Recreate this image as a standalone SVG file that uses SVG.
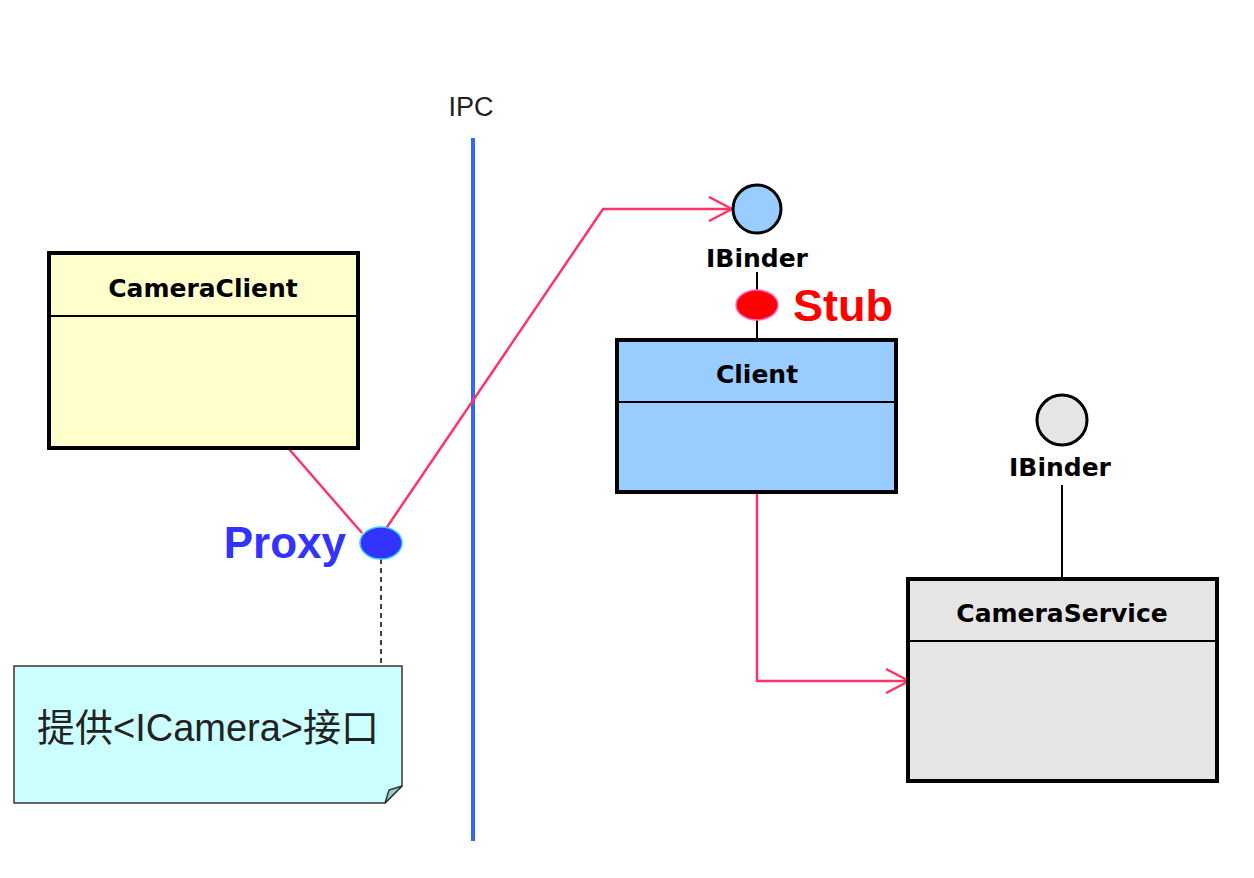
<svg xmlns="http://www.w3.org/2000/svg" width="1254" height="878" viewBox="0 0 1254 878">
<style>
.box{stroke:#000;stroke-width:4}
.div{stroke:#000;stroke-width:2}
.title{font-family:"DejaVu Sans","Liberation Sans",sans-serif;font-weight:bold;font-size:25px;text-anchor:middle;fill:#000}
.lbl{font-family:"DejaVu Sans","Liberation Sans",sans-serif;font-weight:bold;font-size:25px;text-anchor:middle;fill:#000}
.conn{fill:none;stroke:#FF3366;stroke-width:2.5}
.thin{stroke:#000;stroke-width:2}
</style>
<defs>
<marker id="open" viewBox="0 0 26 26" refX="24" refY="13" markerWidth="26" markerHeight="26" markerUnits="userSpaceOnUse" orient="auto">
<path d="M1,1 L24,13 L1,25" fill="none" stroke="#FF3366" stroke-width="2.5"/>
</marker>
</defs>
<rect width="1254" height="878" fill="#fff"/>
<g id="ipc">
<text x="471" y="116" font-family="Liberation Sans,Arial,sans-serif" font-size="27" text-anchor="middle" fill="#222">IPC</text>
<line x1="473" y1="138" x2="473" y2="841" stroke="#3366FF" stroke-width="4"/>
</g>
<g id="connectors">
<polyline class="conn" points="289,449 362,533"/>
<polyline class="conn" points="385,530 603,209 732,209" marker-end="url(#open)"/>
<polyline class="conn" points="757,493 757,681 909,681" marker-end="url(#open)"/>
<line x1="381" y1="559" x2="381" y2="666" stroke="#000" stroke-width="1.5" stroke-dasharray="5,4"/>
<line class="thin" x1="757" y1="272" x2="757" y2="291"/>
<line class="thin" x1="757" y1="320" x2="757" y2="339"/>
<line class="thin" x1="1062" y1="485" x2="1062" y2="578"/>
</g>
<g id="cameraclient">
<rect class="box" x="49" y="253" width="309" height="195" fill="#FFFFCC"/>
<line class="div" x1="49" y1="316" x2="358" y2="316"/>
<text class="title" x="203" y="297">CameraClient</text>
</g>
<g id="proxy">
<ellipse cx="381" cy="543" rx="21" ry="16" fill="#3333FF" stroke="#33CCFF" stroke-width="1.5"/>
<text x="346" y="558" font-family="Liberation Sans,Arial,sans-serif" font-weight="bold" font-size="44" text-anchor="end" fill="#3333FF">Proxy</text>
</g>
<g id="note">
<path d="M14,666 L402,666 L402,786 L385,803 L14,803 Z" fill="#CCFFFF" stroke="#333" stroke-width="1.5"/>
<path d="M385,803 L389,790 L402,786 Z" fill="#99CCCC" stroke="#333" stroke-width="1.5"/>
<text x="208" y="741" font-family="Liberation Sans,'Noto Sans CJK SC',sans-serif" font-size="38" text-anchor="middle" fill="#222">提供&lt;ICamera&gt;接口</text>
</g>
<g id="ibinder1">
<circle cx="757" cy="209" r="24" fill="#99CCFF" stroke="#000" stroke-width="3"/>
<text class="lbl" x="757" y="267">IBinder</text>
</g>
<g id="stub">
<ellipse cx="757" cy="305" rx="21" ry="15" fill="#FF0000" stroke="#FF66CC" stroke-width="1.5"/>
<text x="793" y="321" font-family="Liberation Sans,Arial,sans-serif" font-weight="bold" font-size="45" fill="#FF0000">Stub</text>
</g>
<g id="client">
<rect class="box" x="617" y="340" width="279" height="152" fill="#99CCFF"/>
<line class="div" x1="617" y1="402" x2="896" y2="402"/>
<text class="title" x="757" y="383">Client</text>
</g>
<g id="ibinder2">
<circle cx="1062" cy="420" r="25" fill="#E5E5E5" stroke="#000" stroke-width="3"/>
<text class="lbl" x="1060" y="476">IBinder</text>
</g>
<g id="cameraservice">
<rect class="box" x="908" y="579" width="309" height="202" fill="#E5E5E5"/>
<line class="div" x1="908" y1="641" x2="1217" y2="641"/>
<text class="title" x="1062" y="622">CameraService</text>
</g>
</svg>
